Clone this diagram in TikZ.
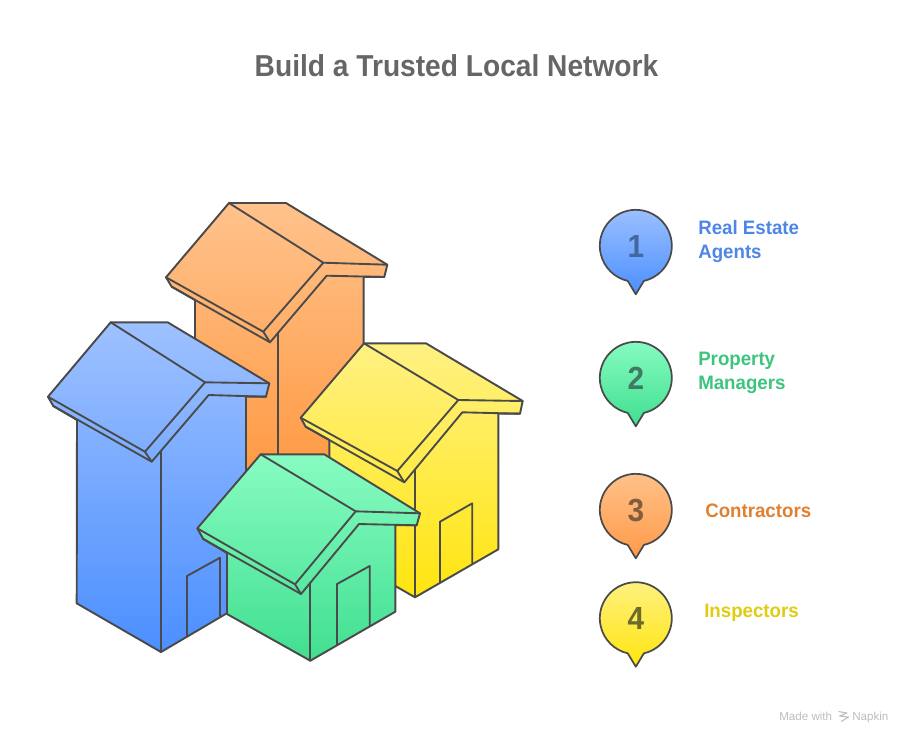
\documentclass[tikz,border=0pt]{standalone}
\usepackage{fontspec}
\setmainfont{Liberation Sans}
\newfontfamily\titlefont[FakeStretch=0.93]{Liberation Sans Bold}
\newfontfamily\lblfont[FakeStretch=0.96]{Liberation Sans Bold}
\definecolor{ink}{HTML}{4A4A4A}
\definecolor{blueT}{HTML}{9EC1FF}\definecolor{blueB}{HTML}{4B8FFF}
\definecolor{orT}{HTML}{FFC28C}\definecolor{orB}{HTML}{FF8D2C}
\definecolor{yeT}{HTML}{FFF183}\definecolor{yeB}{HTML}{FFE50F}
\definecolor{grT}{HTML}{88FCC2}\definecolor{grB}{HTML}{40DF90}
\definecolor{pinOrB}{HTML}{FF9A48}
\definecolor{lblBlue}{HTML}{4E86E8}\definecolor{lblGreen}{HTML}{3DC47E}
\definecolor{lblOr}{HTML}{E08030}\definecolor{lblYe}{HTML}{E0CC12}
\definecolor{dgBlue}{HTML}{44689B}\definecolor{dgGreen}{HTML}{3F7A62}
\definecolor{dgOr}{HTML}{7F5E3F}\definecolor{dgYe}{HTML}{6E6A2C}
\tikzset{
  x=0.75pt,y=0.75pt,
  housebody/.style={draw=ink,line width=1.45pt,line join=round},
  houseline/.style={draw=ink,line width=1.4pt,line join=round,line cap=round},
  pinbody/.style={draw=ink,line width=1.3pt,line join=round},
  digit/.style={font=\fontsize{24}{26}\titlefont,inner sep=0pt},
  lbl/.style={font=\fontsize{14.6}{18}\lblfont,inner sep=0pt,anchor=west,align=left},
  foot/.style={font=\fontsize{8.7}{10}\selectfont,text=black!26,inner sep=0pt,anchor=base west},
}
\newcommand{\pinmark}[7]{%
  \shade[pinbody,top color=#4,bottom color=#5]
    (#2,-#3-48.5) -- (#2+8.1,-#3-35.1) arc[start angle=-77,end angle=257,radius=36] -- cycle;
  \node[digit,text=#7] (#1) at (#2,-#3-0.6) {#6};
}
\begin{document}
\begin{tikzpicture}
\useasboundingbox (0,0) rectangle (912,-744);
\node[font=\fontsize{22.7}{28}\titlefont,text=black!60,inner sep=0pt] (title) at (456.5,-66) {Build a Trusted Local Network};

% orange house
\shade[housebody,top color=orT,bottom color=orB]
  (229,-203) -- (286,-203) -- (387.3,-264.7) -- (384.3,-277) -- (363.7,-276.8) -- (363.7,-510) -- (278.3,-560) -- (195,-510) -- (195,-300) -- (171.7,-286.7) -- (166,-277.3) -- cycle;
\draw[houseline] (229,-203) -- (323.3,-262.7) -- (387.3,-264.7);
\draw[houseline] (323.3,-262.7) -- (263.3,-331.7) -- (166,-277.3);
\draw[houseline] (263.3,-331.7) -- (270,-342.3);
\draw[houseline] (171.7,-286.7) -- (270,-342.3) -- (326.7,-275.7) -- (384.3,-277);
\draw[houseline] (278.3,-332.5) -- (278.3,-560);

% blue house
\shade[housebody,top color=blueT,bottom color=blueB]
  (110.7,-322.3) -- (167.7,-322.3) -- (269.3,-383.3) -- (266,-396.7) -- (246,-396.5) -- (246,-602) -- (161,-652) -- (76.7,-603.3) -- (77,-420) -- (53.3,-406) -- (48,-396.7) -- cycle;
\draw[houseline] (110.7,-322.3) -- (205,-382.3) -- (269.3,-383.3);
\draw[houseline] (205,-382.3) -- (145,-451.7) -- (48,-396.7);
\draw[houseline] (145,-451.7) -- (151.7,-461.7);
\draw[houseline] (53.3,-406) -- (151.7,-461.7) -- (208.7,-395) -- (266,-396.7);
\draw[houseline] (161,-451) -- (161,-652);
\draw[houseline] (187,-636) -- (187,-576) -- (220,-557.7) -- (220,-616);

% yellow house
\shade[housebody,top color=yeT,bottom color=yeB]
  (364,-343.3) -- (426,-343.3) -- (522.7,-401) -- (520,-413.7) -- (498.3,-413.5) -- (498.3,-549.3) -- (415,-597.3) -- (329.3,-548) -- (329.3,-440) -- (305.7,-426.7) -- (300.7,-417.7) -- cycle;
\draw[houseline] (364,-343.3) -- (458.3,-400) -- (522.7,-401);
\draw[houseline] (458.3,-400) -- (397.3,-471) -- (300.7,-417.7);
\draw[houseline] (397.3,-471) -- (404.3,-482.3);
\draw[houseline] (305.7,-426.7) -- (404.3,-482.3) -- (462.3,-412.3) -- (520,-413.7);
\draw[houseline] (415,-469.4) -- (415,-597.3);
\draw[houseline] (440,-582.3) -- (440,-521.7) -- (472.3,-503.3) -- (472.3,-563.3);

% green house
\shade[housebody,top color=grT,bottom color=grB]
  (260.7,-454.3) -- (324.3,-454.3) -- (420,-513.3) -- (416.7,-525.3) -- (395.3,-525.1) -- (395.3,-611.7) -- (310.3,-660.7) -- (227,-614) -- (227,-553) -- (203.3,-539) -- (197.3,-528.3) -- cycle;
\draw[houseline] (260.7,-454.3) -- (355.7,-511.3) -- (420,-513.3);
\draw[houseline] (355.7,-511.3) -- (295,-584.3) -- (197.3,-528.3);
\draw[houseline] (295,-584.3) -- (301,-594);
\draw[houseline] (203.3,-539) -- (301,-594) -- (359,-524) -- (416.7,-525.3);
\draw[houseline] (310.3,-582.8) -- (310.3,-660.7);
\draw[houseline] (337,-645) -- (337,-584) -- (369.7,-566) -- (369.7,-626.3);

% pins
\pinmark{p1}{635.8}{245.8}{blueT}{blueB}{1}{dgBlue}
\pinmark{p2}{635.8}{377.8}{grT}{grB}{2}{dgGreen}
\pinmark{p3}{635.8}{509.8}{orT}{pinOrB}{3}{dgOr}
\pinmark{p4}{635.8}{618.2}{yeT}{yeB}{4}{dgYe}

% labels
\node[lbl,text=lblBlue] (l1) at (698,-241) {Real Estate\\Agents};
\node[lbl,text=lblGreen] (l2) at (698,-373) {Property\\Managers};
\node[lbl,text=lblOr] (l3) at (705,-511) {Contractors};
\node[lbl,text=lblYe] (l4) at (704,-613) {Inspectors};

% footer
\node[foot] (made) at (779,-720.5) {Made with};
\node[foot] (napkin) at (852,-720.5) {Napkin};
\draw[black!26,line width=0.8pt,line join=round] (838.5,-711.5) -- (847,-713) -- (839.5,-716) -- (848.5,-717) -- (841,-721.5);
\end{tikzpicture}
\end{document}
